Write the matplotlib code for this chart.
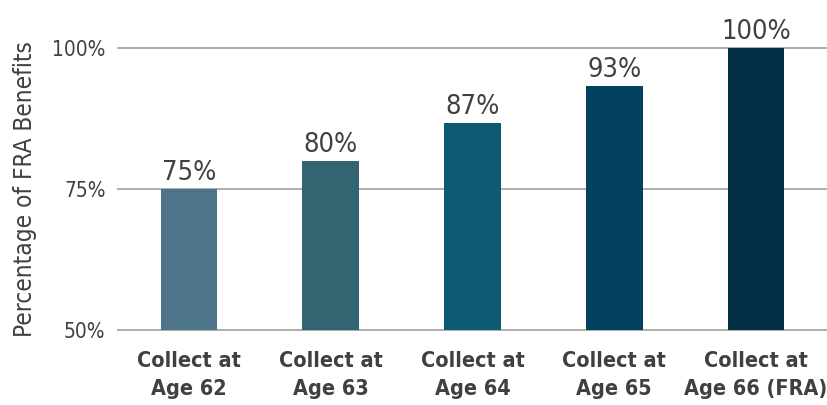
import matplotlib.pyplot as plt
from matplotlib.ticker import FuncFormatter

categories = ['Collect at\nAge 62', 'Collect at\nAge 63', 'Collect at\nAge 64',
              'Collect at\nAge 65', 'Collect at\nAge 66 (FRA)']
values = [75.0, 80.0, 86.67, 93.33, 100.0]
bar_colors = ['#4E7489', '#336471', '#0D5A73', '#03425E', '#022E44']
yticks = [50, 75, 100]

# narrow look of the original font
plt.rcParams['font.family'] = 'DejaVu Sans'
plt.rcParams['font.stretch'] = 'condensed'
text_color = '#404040'

fig = plt.figure(figsize=(8.27, 4.05), dpi=100)
ax = fig.add_axes([0.1427, 0.185, 0.8573, 0.6963])

x = range(len(categories))
bars = ax.bar(x, values, width=0.4, color=bar_colors, zorder=3)

ax.set_ylim(50, 100)
ax.set_xlim(-0.5, len(categories) - 0.5)
ax.set_yticks(yticks)
ax.yaxis.set_major_formatter(FuncFormatter(lambda v, p: '%d%%' % v))
ax.grid(axis='y', color='#ADADAD', lw=1.4, zorder=0)
ax.set_axisbelow(True)
for gl in ax.get_ygridlines():
    gl.set_clip_on(False)
for s in ax.spines.values():
    s.set_visible(False)
ax.tick_params(axis='both', length=0, colors=text_color)
ax.tick_params(axis='y', labelsize=15, pad=9)
ax.tick_params(axis='x', labelsize=15.5, pad=15)
ax.set_xticks(list(x))
ax.set_xticklabels(categories, fontweight='semibold', linespacing=1.5)
for lbl in ax.get_yticklabels():
    lbl.set_clip_on(False)

for b, v in zip(bars, values):
    ax.annotate('%d%%' % round(v), (b.get_x() + b.get_width() / 2, v),
                xytext=(0, 2), textcoords='offset points', ha='center', va='bottom',
                fontsize=19.5, color=text_color, annotation_clip=False)

ax.set_ylabel('Percentage of FRA Benefits', fontsize=17.5, color=text_color, labelpad=11)

fig.savefig('out.png', dpi=100)
